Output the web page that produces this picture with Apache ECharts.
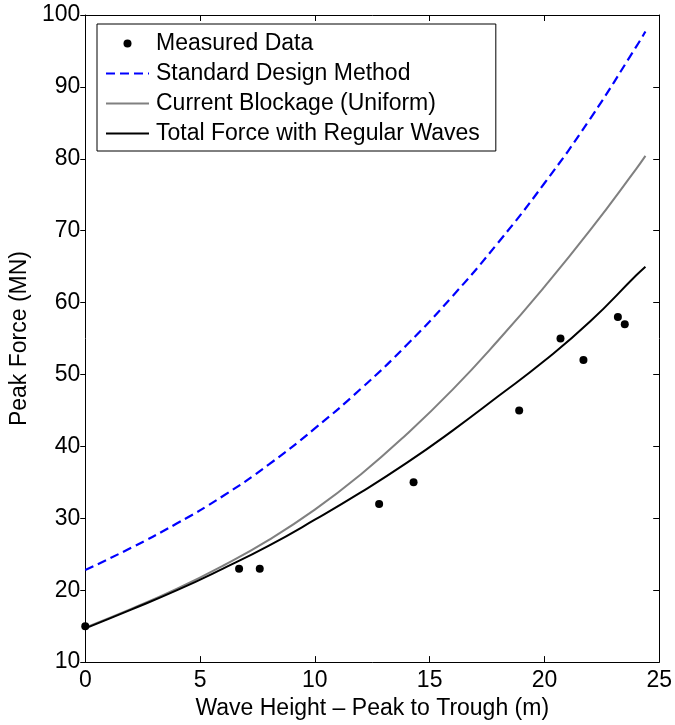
<!DOCTYPE html>
<html>
<head>
<meta charset="utf-8">
<script src="https://cdn.jsdelivr.net/npm/echarts@6/dist/echarts.min.js"></script>
<style>
  html, body { margin: 0; padding: 0; background: #ffffff; }
  #chart { width: 675px; height: 725px; }
</style>
</head>
<body>
<div id="chart"></div>
<script>
// Wave height samples (m) for the three model curves
const waveHeights = [0, 2, 4, 6, 8, 10, 12, 14, 16, 18, 20, 22, 24, 24.4];
// Peak force (MN) predicted by each method
const standardDesign  = [22.8, 25.9, 29.3, 33.1, 37.5, 42.5, 48.0, 54.1, 60.9, 68.4, 76.6, 85.6, 95.6, 97.7];
const currentBlockage = [14.8, 17.4, 20.2, 23.4, 27.0, 31.2, 36.1, 41.7, 47.9, 54.8, 62.2, 70.1, 78.6, 80.4];
const totalForce      = [14.7, 17.3, 20.0, 23.0, 26.2, 29.8, 33.6, 37.7, 42.2, 47.0, 51.9, 57.4, 63.8, 65.0];

// Field measurements
const measuredHeights = [0, 6.7, 7.6, 12.8, 14.3, 18.9, 20.7, 21.7, 23.2, 23.5];
const measuredForces  = [15, 23, 23, 32, 35, 45, 55, 52, 58, 57];

// Axis ranges and tick spacing
const xRange = [0, 25], xStep = 5;
const yRange = [10, 100], yStep = 10;

const seriesNames = [
  'Measured Data',
  'Standard Design Method',
  'Current Blockage (Uniform)',
  'Total Force with Regular Waves'
];

const FONT = '"Liberation Sans", Arial, Helvetica, sans-serif';
const FS = 23;
const zip = (xs, ys) => xs.map((x, i) => [x, ys[i]]);

const chart = echarts.init(document.getElementById('chart'), null, { renderer: 'canvas' });

const axisLine = { show: true, onZero: false, lineStyle: { color: '#000', width: 1 } };
const tickStyle = { color: '#000', width: 1 };
// line entries in the legend show only their stroke, no marker
const noMarker = { opacity: 0, color: 'rgba(0,0,0,0)', borderWidth: 0 };

chart.setOption({
  backgroundColor: '#ffffff',
  animation: false,
  textStyle: { fontFamily: FONT, color: '#000' },
  grid: { left: 84, right: 15, top: 15, bottom: 59, containLabel: false },
  legend: {
    left: 97,
    top: 24,
    orient: 'vertical',
    itemWidth: 43,
    itemHeight: 8,
    itemGap: 7,
    padding: [8, 16, 6, 8],
    borderColor: '#000',
    borderWidth: 1,
    backgroundColor: '#fff',
    selectedMode: false,
    textStyle: { fontFamily: FONT, fontSize: FS, color: '#000', lineHeight: 22, padding: [0, 0, 0, 2] },
    data: seriesNames.map((n, i) => i === 0
      ? { name: n, icon: 'circle', itemStyle: { color: '#000', opacity: 1 } }
      : { name: n, itemStyle: noMarker })
  },
  xAxis: [
    {
      type: 'value', position: 'bottom',
      min: xRange[0], max: xRange[1], interval: xStep,
      name: 'Wave Height \u2013 Peak to Trough (m)',
      nameLocation: 'middle', nameGap: 29,
      nameTextStyle: { fontFamily: FONT, fontSize: FS, color: '#000' },
      axisLine: axisLine,
      axisTick: { show: true, inside: true, length: 6, lineStyle: tickStyle },
      axisLabel: { fontFamily: FONT, fontSize: FS, color: '#000', margin: 7 },
      splitLine: { show: false }
    },
    {
      type: 'value', position: 'top',
      min: xRange[0], max: xRange[1], interval: xStep,
      axisLine: axisLine,
      axisTick: { show: true, inside: true, length: 6, lineStyle: tickStyle },
      axisLabel: { show: false },
      splitLine: { show: false }
    }
  ],
  yAxis: [
    {
      type: 'value', position: 'left',
      min: yRange[0], max: yRange[1], interval: yStep,
      name: 'Peak Force (MN)',
      nameLocation: 'middle', nameGap: 48,
      nameTextStyle: { fontFamily: FONT, fontSize: FS, color: '#000' },
      axisLine: axisLine,
      axisTick: { show: true, inside: false, length: 5, lineStyle: tickStyle },
      axisLabel: { fontFamily: FONT, fontSize: FS, color: '#000', margin: 5 },
      splitLine: { show: false }
    },
    {
      type: 'value', position: 'right',
      min: yRange[0], max: yRange[1], interval: yStep,
      axisLine: axisLine,
      axisTick: { show: true, inside: true, length: 6, lineStyle: tickStyle },
      axisLabel: { show: false },
      splitLine: { show: false }
    }
  ],
  series: [
    {
      name: seriesNames[1], type: 'line', smooth: true, symbol: 'none',
      data: zip(waveHeights, standardDesign),
      lineStyle: { color: '#0000ff', width: 2.2, type: [9, 5] },
      itemStyle: { color: '#0000ff' },
      z: 2
    },
    {
      name: seriesNames[2], type: 'line', smooth: true, symbol: 'none',
      data: zip(waveHeights, currentBlockage),
      lineStyle: { color: '#808080', width: 2 },
      itemStyle: { color: '#808080' },
      z: 2
    },
    {
      name: seriesNames[3], type: 'line', smooth: true, symbol: 'none',
      data: zip(waveHeights, totalForce),
      lineStyle: { color: '#000000', width: 2 },
      itemStyle: { color: '#000000' },
      z: 3
    },
    {
      name: seriesNames[0], type: 'scatter', symbol: 'circle', symbolSize: 8,
      data: zip(measuredHeights, measuredForces),
      itemStyle: { color: '#000000', opacity: 1 },
      z: 4
    }
  ]
});
</script>
</body>
</html>
